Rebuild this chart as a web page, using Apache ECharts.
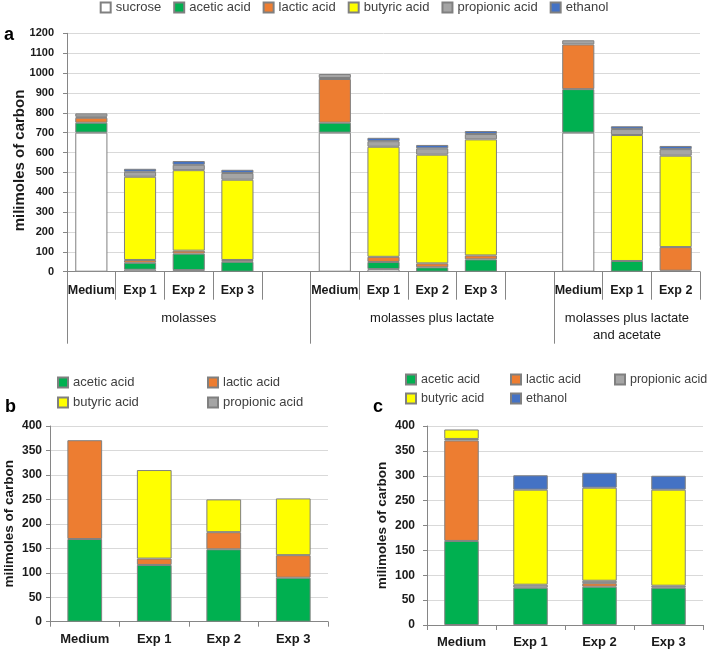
<!DOCTYPE html>
<html><head><meta charset="utf-8">
<script src="https://cdn.jsdelivr.net/npm/echarts@6/dist/echarts.min.js"></script>
<style>html,body{margin:0;padding:0;background:#fff}#chart{width:708px;height:652px}</style>
</head><body><div id="chart"></div>
<script>
// ---------- data ----------
const catsA = ['Medium','Exp 1','Exp 2','Exp 3','','Medium','Exp 1','Exp 2','Exp 3','','Medium','Exp 1','Exp 2'];
const groupNames = ['molasses','molasses plus lactate','molasses plus lactate\nand acetate'];
const groupSizes = [5,5,3];
const ticksA = [0,100,200,300,400,500,600,700,800,900,1000,1100,1200];

const sucroseA   = [700, 10,  8,   0, null, 700, 13,   0,   0, null, 700,   0,   0];
const aceticA    = [ 50, 35, 83,  50, null,  50, 36,  22,  62, null, 219,  54,   5];
const lacticA    = [ 25, 14, 15,   9, null, 220, 26,  20,  20, null, 225,   0, 119];
const butyricA   = [  5,419,405, 404, null,   5,554, 547, 584, null,   0, 634, 460];
const propionicA = [ 17, 25, 27,  34, null,  20, 28,  32,  27, null,  21,  30,  33];
const ethanolA   = [  0, 15, 19,  16, null,   0, 17,  17,  15, null,   0,  14,  16];

const catsBC = ['Medium','Exp 1','Exp 2','Exp 3'];
const ticksBC = [0,50,100,150,200,250,300,350,400];

const aceticB    = [169, 116, 148,  90];
const lacticB    = [202,  13,  35,  46];
const butyricB   = [  0, 181,  67, 116];
const propionicB = [  0,   0,   0,   0];

const aceticC    = [169,  75,  77,  75];
const lacticC    = [202,   0,   7,   0];
const propionicC = [  3,   6,   5,   4];
const butyricC   = [ 19, 191, 187, 193];
const ethanolC   = [  0,  29,  30,  28];

// ---------- styling ----------
const FONT = "'Liberation Sans', Arial, sans-serif";
const COL = {
  'sucrose':'#ffffff','acetic acid':'#00b050','lactic acid':'#ed7d31',
  'butyric acid':'#ffff00','propionic acid':'#a5a5a5','ethanol':'#4472c4'
};
const AXIS = '#868686', GRIDC = '#d9d9d9', TXT = '#1a1a1a';

function clean(arr){ return arr.map(v => (v === 0 ? null : v)); }
function bar(name, data, xi, yi, stack, gap){
  return {
    type:'bar', name, data: clean(data), xAxisIndex:xi, yAxisIndex:yi, stack,
    barCategoryGap: gap, itemStyle:{color:COL[name], borderColor:'#808080', borderWidth:1},
    emphasis:{disabled:true}, animation:false
  };
}

// group label positions derived from group sizes
const groupCenters = [], groupEdges = [];
let acc = 0;
groupSizes.forEach(s => { groupEdges.push(acc); groupCenters.push(acc + s/2); acc += s; });

function yAxisCfg(grid, ticks, name, nameGap, nameSize, labelSize, margin, namePad){
  return {
    type:'value', gridIndex:grid, min:ticks[0], max:ticks[ticks.length-1], interval:ticks[1]-ticks[0],
    name, nameLocation:'middle', nameGap, nameRotate:90, nameMoveOverlap:false,
    nameTextStyle:{fontFamily:FONT, fontSize:nameSize, fontWeight:'bold', color:TXT, padding:namePad || 0},
    axisLine:{show:true, lineStyle:{color:AXIS}},
    axisTick:{show:true, length:4, lineStyle:{color:AXIS}},
    axisLabel:{fontFamily:FONT, fontSize:labelSize, fontWeight:'bold', color:TXT, margin,
      formatter: v => String(v)},
    splitLine:{show:true, lineStyle:{color:GRIDC, width:1}}
  };
}
function catAxisCfg(grid, data, tickLen, margin, size){
  return {
    type:'category', gridIndex:grid, data,
    axisLine:{show:true, lineStyle:{color:AXIS}},
    axisTick:{show:true, interval:0, length:tickLen, lineStyle:{color:AXIS}},
    axisLabel:{interval:0, fontFamily:FONT, fontSize:size, fontWeight:'bold', color:TXT, margin}
  };
}
function legendItem(name, left, top, size){
  return {
    data:[name], left, top, padding:0, itemWidth:10, itemHeight:10, itemGap:0,
    selectedMode:false, icon:'rect',
    textStyle:{fontFamily:FONT, fontSize:size || 13, color:'#404040'}
  };
}

const option = {
  animation:false,
  textStyle:{fontFamily:FONT},
  title:[
    {text:'a', left:4, top:26, padding:0, textStyle:{fontFamily:FONT, fontSize:18, fontWeight:'bold', color:'#000'}},
    {text:'b', left:5, top:398, padding:0, textStyle:{fontFamily:FONT, fontSize:18, fontWeight:'bold', color:'#000'}},
    {text:'c', left:373, top:398, padding:0, textStyle:{fontFamily:FONT, fontSize:18, fontWeight:'bold', color:'#000'}}
  ],
  legend:[
    {data:['sucrose','acetic acid','lactic acid','butyric acid','propionic acid','ethanol'],
     left:'center', top:1, padding:0, itemWidth:10, itemHeight:10, itemGap:12, icon:'rect',
     selectedMode:false, textStyle:{fontFamily:FONT, fontSize:13, color:'#404040'}},
    legendItem('acetic acid', 57, 376), legendItem('lactic acid', 207, 376),
    legendItem('butyric acid', 57, 396), legendItem('propionic acid', 207, 396),
    legendItem('acetic acid', 405, 373, 12.5), legendItem('lactic acid', 510, 373, 12.5),
    legendItem('propionic acid', 614, 373, 12.5), legendItem('butyric acid', 405, 392, 12.5),
    legendItem('ethanol', 510, 392, 12.5)
  ],
  grid:[
    {left:67, top:33.3, width:633, height:238.4, outerBoundsMode:'none', containLabel:false},
    {left:50, top:426, width:278, height:195.7, outerBoundsMode:'none', containLabel:false},
    {left:427, top:426, width:276, height:199, outerBoundsMode:'none', containLabel:false}
  ],
  xAxis:[
    catAxisCfg(0, catsA, 28, 12, 12.5),
    {
      type:'value', gridIndex:0, position:'bottom', min:0, max:acc,
      axisLine:{show:false}, splitLine:{show:false},
      axisTick:{show:true, customValues:groupEdges, length:72, lineStyle:{color:AXIS}},
      axisLabel:{customValues:groupCenters, margin:38, fontFamily:FONT, fontSize:13, color:TXT, lineHeight:17,
        formatter: v => { const i = groupCenters.indexOf(v); return i >= 0 ? groupNames[i] : ''; }}
    },
    catAxisCfg(1, catsBC, 5, 11, 13),
    catAxisCfg(2, catsBC, 5, 11, 13)
  ],
  yAxis:[
    yAxisCfg(0, ticksA, 'milimoles of carbon', 40, 15, 11, 13, [0,16,0,0]),
    yAxisCfg(1, ticksBC, 'milimoles of carbon', 34, 13.5, 12, 8),
    yAxisCfg(2, ticksBC, 'milimoles of carbon', 38, 13.5, 12, 12)
  ],
  series:[
    bar('sucrose', sucroseA, 0, 0, 'a', '34%'),
    bar('acetic acid', aceticA, 0, 0, 'a', '34%'),
    bar('lactic acid', lacticA, 0, 0, 'a', '34%'),
    bar('butyric acid', butyricA, 0, 0, 'a', '34%'),
    bar('propionic acid', propionicA, 0, 0, 'a', '34%'),
    bar('ethanol', ethanolA, 0, 0, 'a', '34%'),

    bar('acetic acid', aceticB, 2, 1, 'b', '50%'),
    bar('lactic acid', lacticB, 2, 1, 'b', '50%'),
    bar('butyric acid', butyricB, 2, 1, 'b', '50%'),
    bar('propionic acid', propionicB, 2, 1, 'b', '50%'),

    bar('acetic acid', aceticC, 3, 2, 'c', '50%'),
    bar('lactic acid', lacticC, 3, 2, 'c', '50%'),
    bar('propionic acid', propionicC, 3, 2, 'c', '50%'),
    bar('butyric acid', butyricC, 3, 2, 'c', '50%'),
    bar('ethanol', ethanolC, 3, 2, 'c', '50%')
  ]
};
const chart = echarts.init(document.getElementById('chart'), null, {renderer:'canvas'});
chart.setOption(option);
</script>
</body></html>
